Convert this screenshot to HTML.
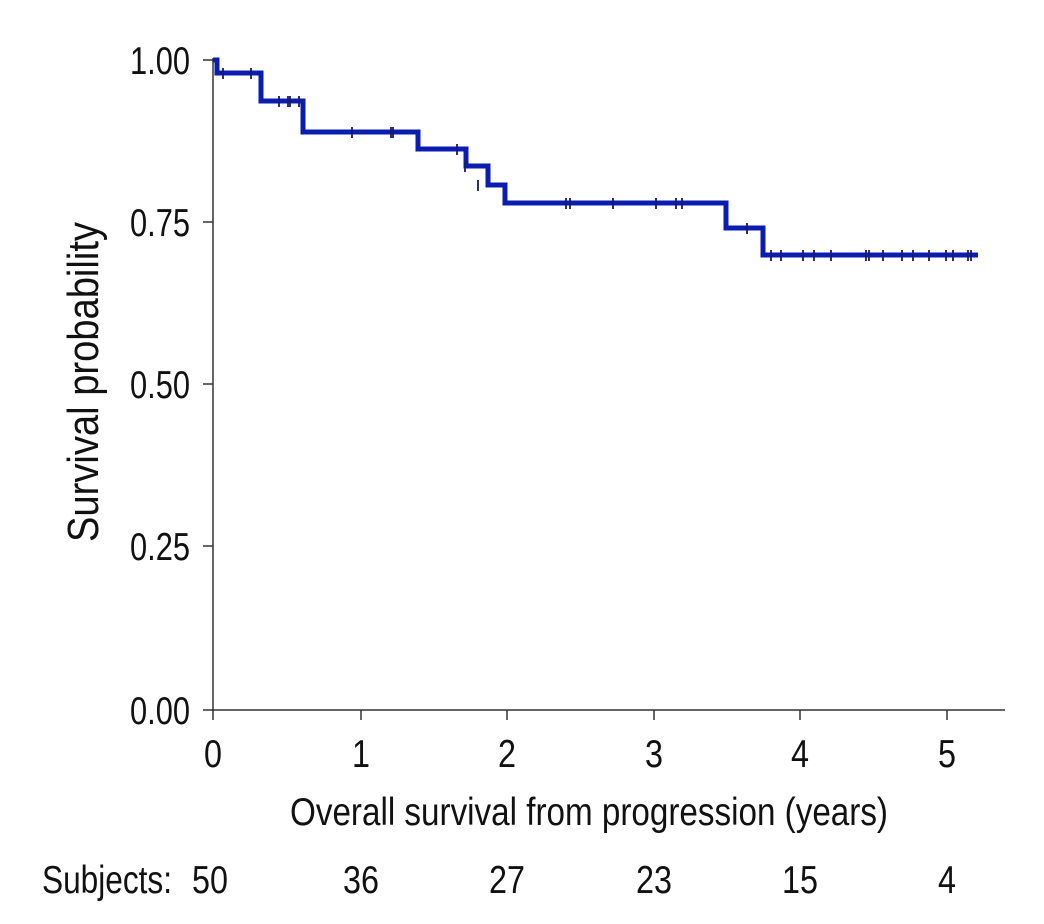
<!DOCTYPE html>
<html><head><style>body{margin:0;background:#fff}svg{display:block}</style></head><body>
<svg width="1044" height="924" xmlns="http://www.w3.org/2000/svg" font-family="Liberation Sans, sans-serif" fill="#111">
<g stroke="#333" stroke-width="1.5" fill="none">
<line x1="213" y1="58" x2="213" y2="711"/>
<line x1="212" y1="710" x2="1005" y2="710"/>
<line x1="203" y1="60" x2="213" y2="60"/>
<line x1="203" y1="222" x2="213" y2="222"/>
<line x1="203" y1="384" x2="213" y2="384"/>
<line x1="203" y1="546" x2="213" y2="546"/>
<line x1="203" y1="710" x2="213" y2="710"/>
<line x1="213" y1="710" x2="213" y2="720"/>
<line x1="361" y1="710" x2="361" y2="720"/>
<line x1="507" y1="710" x2="507" y2="720"/>
<line x1="654" y1="710" x2="654" y2="720"/>
<line x1="800" y1="710" x2="800" y2="720"/>
<line x1="947" y1="710" x2="947" y2="720"/>
</g>
<g font-size="39" text-anchor="end">
<text x="190" y="74" textLength="60" lengthAdjust="spacingAndGlyphs">1.00</text>
<text x="190" y="236" textLength="60" lengthAdjust="spacingAndGlyphs">0.75</text>
<text x="190" y="398" textLength="60" lengthAdjust="spacingAndGlyphs">0.50</text>
<text x="190" y="560" textLength="60" lengthAdjust="spacingAndGlyphs">0.25</text>
<text x="190" y="724" textLength="60" lengthAdjust="spacingAndGlyphs">0.00</text>
</g>
<g font-size="39">
<text x="204" y="767" textLength="18" lengthAdjust="spacingAndGlyphs">0</text>
<text x="352" y="767" textLength="18" lengthAdjust="spacingAndGlyphs">1</text>
<text x="498" y="767" textLength="18" lengthAdjust="spacingAndGlyphs">2</text>
<text x="645" y="767" textLength="18" lengthAdjust="spacingAndGlyphs">3</text>
<text x="791" y="767" textLength="18" lengthAdjust="spacingAndGlyphs">4</text>
<text x="938" y="767" textLength="18" lengthAdjust="spacingAndGlyphs">5</text>
<text x="290" y="825" textLength="598" lengthAdjust="spacingAndGlyphs">Overall survival from progression (years)</text>
<text x="42" y="893" textLength="130" lengthAdjust="spacingAndGlyphs">Subjects:</text>
<text x="192" y="893" textLength="36" lengthAdjust="spacingAndGlyphs">50</text>
<text x="343" y="893" textLength="36" lengthAdjust="spacingAndGlyphs">36</text>
<text x="489" y="893" textLength="36" lengthAdjust="spacingAndGlyphs">27</text>
<text x="636" y="893" textLength="36" lengthAdjust="spacingAndGlyphs">23</text>
<text x="782" y="893" textLength="36" lengthAdjust="spacingAndGlyphs">15</text>
<text x="938" y="893" textLength="18" lengthAdjust="spacingAndGlyphs">4</text>
</g>
<text transform="translate(98,382) rotate(-90)" font-size="44" text-anchor="middle" textLength="320" lengthAdjust="spacingAndGlyphs">Survival probability</text>
<path fill="none" stroke="#0b1db0" stroke-width="5" stroke-linejoin="miter" d="M213 60H217V73H261V101H303V132H418V149H466V166H488V185H505V203H726V228H763V255H978"/>
<g stroke="#1a1a6a" stroke-width="1.8">
<path d="M223 68v11M251 68v11M279 96v11M288 96v11M290 96v11M299 96v11M352 127v11M391 127v11M393 127v11M457 144v11M465 161v11M478 180v11M566 198v11M570 198v11M613 198v11M656 198v11M676 198v11M682 198v11M747 223v11M771 250v11M781 250v11M803 250v11M814 250v11M831 250v11M866 250v11M869 250v11M883 250v11M902 250v11M913 250v11M929 250v11M946 250v11M953 250v11M968 250v11M971 250v11"/>
</g>
</svg>
</body></html>
